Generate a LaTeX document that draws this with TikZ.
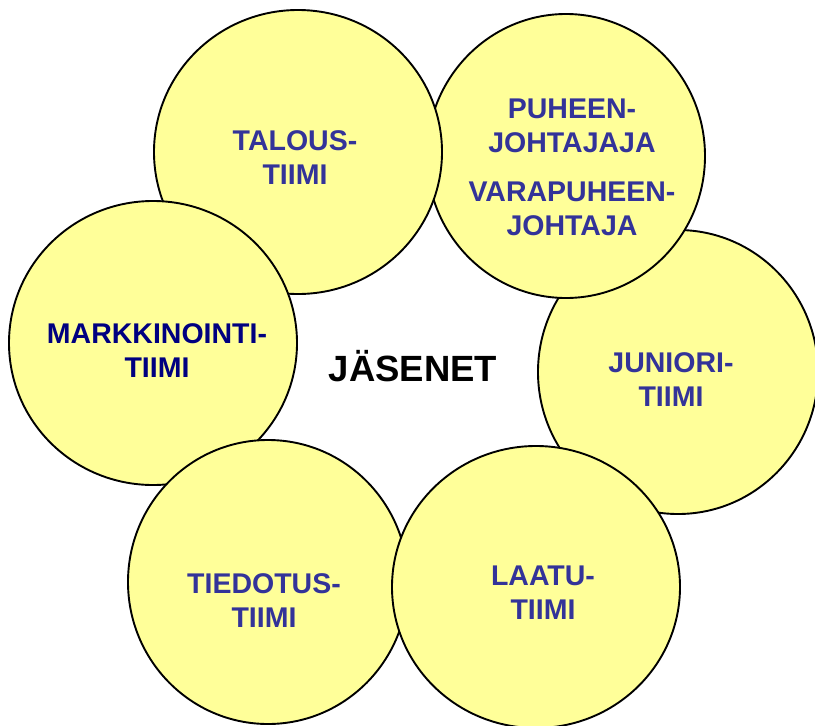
\documentclass[tikz,border=0pt]{standalone}
\usepackage{fontspec}
\setmainfont{Liberation Sans}
\usetikzlibrary{shapes.geometric}
\definecolor{bubblefill}{HTML}{FFFF99}
\definecolor{teamtext}{HTML}{333399}
\definecolor{navytext}{HTML}{000080}
\tikzset{
  bubble/.style={ellipse, draw=black, line width=1.9pt, fill=bubblefill, inner sep=0pt, outer sep=0pt},
  label/.style={align=center, text=teamtext, inner sep=0pt, font=\fontsize{28.5}{34}\selectfont\bfseries},
}
\begin{document}
\begin{tikzpicture}[x=1pt,y=-1pt]
\useasboundingbox (0,0) rectangle (815,726);
% circles, back to front
\node[bubble, minimum width=280pt, minimum height=284pt] (juniori) at (678,372) {};
\node[bubble, minimum width=278pt, minimum height=284pt] (puheen) at (566,156) {};
\node[bubble, minimum width=288pt, minimum height=284pt] (talous) at (298,152) {};
\node[bubble, minimum width=288pt, minimum height=284pt] (markkinointi) at (153,343) {};
\node[bubble, minimum width=280pt, minimum height=284pt] (tiedotus) at (268,582) {};
\node[bubble, minimum width=288pt, minimum height=282pt] (laatu) at (536,587) {};
% texts
\node[label] (tTalous) at (295,158) {TALOUS-\\TIIMI};
\node[label] (tPuheen) at (572,125.5) {PUHEEN-\\JOHTAJAJA};
\node[label] (tVara) at (572,209) {VARAPUHEEN-\\JOHTAJA};
\node[label, text=navytext] (tMark) at (157,350.5) {MARKKINOINTI-\\TIIMI};
\node[label] (tJun) at (671,380) {JUNIORI-\\TIIMI};
\node[label] (tTied) at (264,601) {TIEDOTUS-\\TIIMI};
\node[label] (tLaatu) at (543,592.5) {LAATU-\\TIIMI};
\node[inner sep=0pt, font=\fontsize{36.5}{40}\selectfont\bfseries] (jasenet) at (413,366) {JÄSENET};
\end{tikzpicture}
\end{document}
